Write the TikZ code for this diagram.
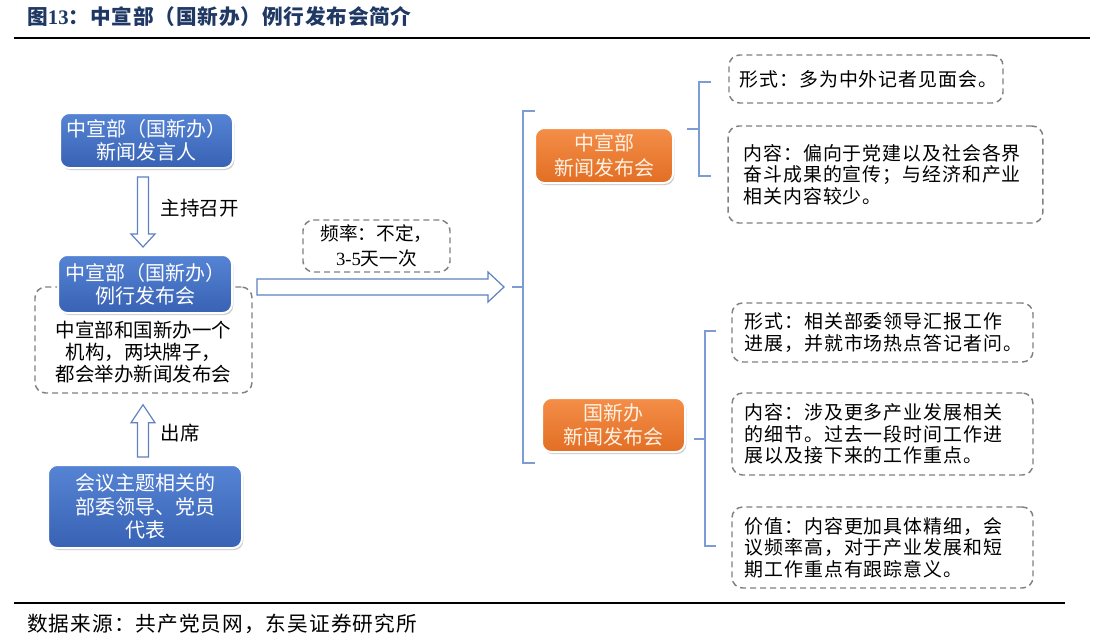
\documentclass[tikz,border=0pt]{standalone}
\usepackage{fontspec}
\setmainfont{Noto Sans CJK SC}
\newfontfamily\lat{Liberation Serif}
\usetikzlibrary{calc,shadows}
\definecolor{titleblue}{RGB}{31,56,100}
\definecolor{boxblueT}{RGB}{86,132,212}
\definecolor{boxblueB}{RGB}{56,98,180}
\definecolor{boxorangeT}{RGB}{244,142,72}
\definecolor{boxorangeB}{RGB}{226,110,36}
\definecolor{dashgray}{RGB}{128,128,128}
\definecolor{brk}{RGB}{125,155,212}
\definecolor{arrowblue}{RGB}{95,128,196}
\definecolor{orangetext}{RGB}{255,242,228}
\tikzset{
 bluebox/.style={rounded corners=7pt, draw=white, line width=1.5pt, top color=boxblueT, bottom color=boxblueB,
   text=white, align=center, font=\fontsize{15}{17.5}\selectfont,
   drop shadow={shadow xshift=1pt, shadow yshift=-1.5pt, opacity=0.4}},
 orangebox/.style={rounded corners=7pt, draw=white, line width=1.5pt, top color=boxorangeT, bottom color=boxorangeB,
   text=orangetext, align=center, font=\fontsize{15}{18.5}\selectfont,
   drop shadow={shadow xshift=1pt, shadow yshift=-1.5pt, opacity=0.4}},
 dashbox/.style={rounded corners=8pt, draw=dashgray, line width=1.1pt, dash pattern=on 4.5pt off 3pt},
 note/.style={dashbox, align=left, font=\fontsize{14.2}{16.2}\selectfont\addfontfeatures{LetterSpace=5}, inner xsep=8pt, inner ysep=0pt},
 harrow/.style={draw=arrowblue, fill=white, line width=0.9pt, line join=miter},
 brace/.style={draw=brk, line width=1.1pt},
 lbl/.style={font=\fontsize{14.6}{16}\selectfont},
}
\begin{document}
\begin{tikzpicture}[x=0.75pt,y=-0.75pt]
\fill[white] (0,0) rectangle (1100,643);
\useasboundingbox (0,0) rectangle (1100,643);

% title and rules
\node[anchor=west, text=titleblue, font=\fontsize{15.5}{17}\selectfont\bfseries\addfontfeatures{LetterSpace=4}, inner sep=0pt] (title) at (27,17)
  {图{\lat\bfseries 13}：中宣部（国新办）例行发布会简介};
\draw[line width=1.5pt] (14,38) -- (1090,38);
\draw[line width=1.2pt] (14,603) -- (1065,603);
\node[anchor=west, font=\fontsize{15.5}{17}\selectfont\addfontfeatures{LetterSpace=5}, inner sep=0pt] (src) at (27,624)
  {数据来源：共产党员网，东吴证券研究所};

% left column
\node[bluebox, minimum width=129.75pt, minimum height=41.25pt] (b1) at (146.5,140.5)
  {中宣部（国新办）\\新闻发言人};
\node[dashbox, minimum width=162.75pt, minimum height=79.5pt] (d1) at (143.5,340) {};
\node[bluebox, minimum width=130.5pt, minimum height=43.5pt] (b2) at (145,284)
  {中宣部（国新办）\\例行发布会};
\node[align=center, font=\fontsize{14.6}{16.2}\selectfont] (d1t) at (143.5,352)
  {中宣部和国新办一个\\机构，两块牌子，\\都会举办新闻发布会};
\node[bluebox, minimum width=145.5pt, minimum height=62.25pt] (b3) at (145,506.5)
  {会议主题相关的\\部委领导、党员\\代表};

% down arrow b1 -> b2
\coordinate (dtop) at ($(b1.south)+(-3.5,8)$);
\coordinate (dtip) at ($(b2.north)+(-2,-7)$);
\draw[harrow] ($(dtop)+(-5.5,0)$) -- ($(dtip)+(-5.5,-13)$) -- ($(dtip)+(-12,-13)$) -- (dtip)
  -- ($(dtip)+(12,-13)$) -- ($(dtip)+(5.5,-13)$) -- ($(dtop)+(5.5,0)$) -- cycle;
\node[lbl, anchor=west] (l1) at (156,208) {主持召开};

% up arrow b3 -> d1
\coordinate (ubot) at ($(b3.north)+(-2,-7)$);
\coordinate (utip) at ($(d1.south)+(-0.5,11)$);
\draw[harrow] ($(ubot)+(-5.5,0)$) -- ($(utip)+(-5.5,18)$) -- ($(utip)+(-12,18)$) -- (utip)
  -- ($(utip)+(12,18)$) -- ($(utip)+(5.5,18)$) -- ($(ubot)+(5.5,0)$) -- cycle;
\node[lbl, anchor=west] (l2) at (156,433) {出席};

% big right arrow
\coordinate (rstart) at (257,287);
\coordinate (rtip) at (504,287);
\draw[harrow] ($(rstart)+(0,-8)$) -- ($(rtip)+(-16,-8)$) -- ($(rtip)+(-16,-15)$) -- (rtip)
  -- ($(rtip)+(-16,15)$) -- ($(rtip)+(-16,8)$) -- ($(rstart)+(0,8)$) -- cycle;
\node[dashbox, align=center, font=\fontsize{14}{18.75}\selectfont, minimum width=110.25pt, minimum height=39pt] (freq) at (376.5,246)
  {频率：不定，\\{\lat 3-5}天一次};

% right orange boxes
\node[orangebox, minimum width=103.5pt, minimum height=41.25pt] (o1) at (604,155.5)
  {中宣部\\新闻发布会};
\node[orangebox, minimum width=107.25pt, minimum height=40.5pt] (o2) at (613.5,425)
  {国新办\\新闻发布会};

% left bracket
\coordinate (lbt) at (535,111);
\coordinate (lbb) at (535,463);
\coordinate (lbm) at (512,287);
\draw[brace] (lbt) -- (523,111) -- (523,463) -- (lbb);
\draw[brace] (lbm) -- (523,287);

% notes
\node[note, text width=189.5pt, minimum height=36pt] (r1) at (866,79)
  {形式：多为中外记者见面会。};
\node[note, minimum height=72.75pt, inner xsep=11.5pt, text width=213pt] (r2) at (885.5,174.5)
  {内容：偏向于党建以及社会各界\\奋斗成果的宣传；与经济和产业\\相关内容较少。};
\node[note, inner xsep=9.5pt, text width=206.75pt, minimum height=44.25pt] (r3) at (882.5,332.5)
  {形式：相关部委领导汇报工作\\进展，并就市场热点答记者问。};
\node[note, inner xsep=9.5pt, text width=206.75pt, minimum height=61.5pt] (r4) at (882.5,434)
  {内容：涉及更多产业发展相关\\的细节。过去一段时间工作进\\展以及接下来的工作重点。};
\node[note, inner xsep=9.5pt, text width=206.75pt, minimum height=60.75pt] (r5) at (882.5,547.5)
  {价值：内容更加具体精细，会\\议频率高，对于产业发展和短\\期工作重点有跟踪意义。};

% bracket for o1
\draw[brace] ($(r1.west)+(-17,3)$) -- (699,82) -- (699,176) -- ($(r2.west)+(-16,1.5)$);
\draw[brace] (687,129) -- (699,129);
% bracket for o2
\draw[brace] ($(r3.west)+(-15,-1.5)$) -- (705,331) -- (705,546) -- ($(r5.west)+(-15,-1.5)$);
\draw[brace] ($(o2.east)+(8,14)$) -- (705,439);
\end{tikzpicture}
\end{document}
